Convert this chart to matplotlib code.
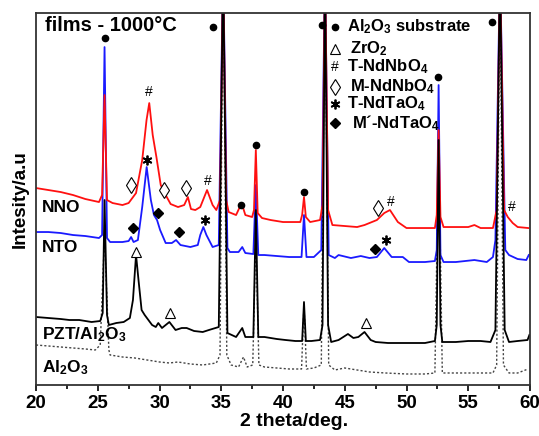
import matplotlib
matplotlib.use('Agg')
import matplotlib.pyplot as plt

# --- data (2 theta in deg, intensity in a.u.) ---
nno_x = [20.0, 21.0, 22.0, 23.0, 24.0, 25.1, 25.35, 25.55, 25.75, 26.2, 27.0, 27.5,
         28.1, 28.6, 28.95, 29.17, 29.45, 29.75, 30.1, 30.5, 30.9, 31.5, 32.0, 32.3,
         32.55, 32.9, 33.3, 33.85, 34.3, 34.6, 34.9, 35.15, 35.4, 35.6, 36.2, 36.65,
         36.95, 37.5, 37.65, 37.8, 37.95, 38.3, 39.0, 40.0, 41.0, 41.4, 41.55, 41.7,
         41.85, 42.2, 43.0, 43.2, 43.4, 43.65, 44.0, 45.0, 46.0, 46.6, 47.6, 48.2,
         48.66, 49.3, 50.0, 51.0, 52.3, 52.45, 52.6, 52.75, 53.0, 54.0, 55.0, 55.5,
         56.0, 57.0, 57.3, 57.57, 57.9, 58.2, 58.6, 59.0, 59.85]
nno_y = [197, 195, 193, 190, 186, 183, 190, 290, 185, 182, 180, 182,
         192, 225, 265, 282, 250, 228, 200, 190, 181, 178, 180, 188,
         176, 175, 178, 195, 180, 175, 185, 420, 185, 173, 170, 182,
         170, 168, 175, 235, 172, 167, 165, 163, 163, 163, 170, 188,
         168, 163, 165, 180, 420, 175, 160, 159, 158, 160, 165, 172,
         175, 163, 157, 157, 157, 170, 255, 168, 158, 158, 158, 160,
         157, 157, 175, 420, 175, 168, 162, 158, 157]

nto_x = [20.0, 21.0, 22.0, 23.0, 24.0, 25.1, 25.35, 25.55, 25.75, 26.0, 27.0, 27.5,
         27.7, 27.9, 28.25, 28.6, 28.96, 29.3, 29.55, 29.8, 30.05, 30.5, 31.0, 31.34,
         31.7, 32.5, 33.1, 33.3, 33.55, 33.8, 34.3, 34.8, 35.15, 35.5, 35.7, 36.4,
         36.7, 36.95, 37.6, 37.8, 38.0, 38.5, 39.5, 40.5, 41.5, 41.7, 41.9, 42.5,
         43.1, 43.4, 43.7, 44.2, 44.5, 45.5, 46.3, 47.0, 47.6, 48.2, 48.8, 49.7,
         50.2, 51.5, 52.3, 52.45, 52.6, 52.75, 53.0, 54.0, 55.5, 56.5, 57.0, 57.2,
         57.57, 58.0, 58.3, 59.0, 59.7, 59.9]
nto_y = [153, 153, 152, 150, 149, 147, 150, 338, 147, 143, 143, 144,
         148, 143, 145, 178, 218, 185, 170, 165, 155, 142, 142, 145,
         140, 138, 140, 150, 158, 150, 138, 140, 420, 137, 133, 133,
         138, 132, 131, 200, 130, 130, 129, 128, 128, 170, 128, 128,
         135, 420, 130, 127, 130, 127, 129, 127, 128, 137, 128, 128,
         123, 123, 124, 135, 300, 130, 123, 123, 125, 123, 128, 145,
         420, 135, 130, 126, 125, 130]

pzt_x = [20.0, 21.0, 22.0, 22.7, 23.5, 24.5, 25.2, 25.4, 25.55, 25.75, 25.9, 26.5,
         27.1, 27.6, 27.85, 28.1, 28.3, 28.55, 28.8, 29.4, 29.7, 29.9, 30.2, 30.8,
         31.3, 31.8, 32.2, 32.8, 33.5, 34.0, 34.8, 35.15, 35.5, 36.2, 36.7, 36.95,
         37.6, 37.8, 38.0, 38.5, 39.5, 40.2, 41.0, 41.55, 41.7, 41.85, 42.3, 43.0,
         43.2, 43.4, 43.65, 43.9, 44.5, 45.26, 45.7, 46.1, 46.6, 47.1, 47.5, 48.5,
         50.0, 51.5, 52.3, 52.45, 52.6, 52.75, 52.9, 54.0, 55.0, 56.0, 56.8, 57.2,
         57.57, 57.95, 58.3, 59.0, 59.8, 59.95]
pzt_y = [68, 67, 66, 65, 65, 63, 64, 72, 185, 70, 60, 62,
         63, 67, 85, 130, 105, 75, 70, 60, 58, 62, 57, 63,
         55, 57, 57, 54, 53, 55, 58, 420, 52, 48, 57, 48,
         48, 175, 48, 48, 46, 45, 44, 44, 83, 44, 44, 45,
         60, 420, 60, 43, 45, 51, 47, 48, 53, 45, 43, 42,
         42, 42, 44, 60, 245, 60, 43, 43, 44, 44, 43, 55,
         420, 55, 43, 44, 45, 50]

sub_x = [20.0, 21.0, 22.0, 23.0, 24.0, 24.8, 25.2, 25.55, 25.9, 26.0, 27.0, 28.0,
         29.0, 30.0, 30.8, 31.5, 32.5, 33.5, 34.6, 34.9, 35.15, 35.45, 35.8, 36.4,
         36.8, 37.1, 37.55, 37.8, 38.05, 38.5, 39.5, 40.5, 41.5, 41.7, 41.9, 42.5,
         43.1, 43.4, 43.7, 44.2, 45.0, 46.0, 47.0, 48.3, 50.0, 51.5, 52.3, 52.6,
         52.9, 54.0, 55.5, 57.0, 57.3, 57.57, 57.85, 58.3, 59.0, 59.85]
sub_y = [40, 39, 38, 37, 36, 35, 40, 150, 35, 30, 28, 27,
         25, 23, 22, 23, 21, 20, 22, 30, 420, 30, 20, 18,
         28, 18, 20, 150, 20, 18, 17, 16, 16, 80, 16, 17,
         20, 420, 20, 15, 17, 15, 13, 12, 11, 11, 12, 245,
         12, 12, 12, 12, 20, 420, 20, 12, 12, 16]

# phase markers (2 theta, height)
dot_pos = [(25.55, 347), (34.3, 358), (43.15, 360), (37.8, 240), (41.7, 193),
           (36.6, 180), (52.55, 308), (56.9, 363)]
hash_pos = [(29.15, 293), (33.9, 204), (48.75, 183), (58.5, 178)]
open_dia_pos = [(27.7, 200), (30.35, 195), (32.15, 197), (47.7, 177)]
star_pos = [(28.95, 225), (33.7, 165), (48.35, 145)]
fill_dia_pos = [(27.85, 157), (29.9, 172), (31.6, 153), (47.45, 136)]
tri_pos = [(28.1, 133), (30.85, 72), (46.7, 62)]

plt.rcParams['font.family'] = ['Liberation Sans', 'DejaVu Sans']
plt.rcParams['font.weight'] = 'bold'
plt.rcParams['mathtext.fontset'] = 'custom'
plt.rcParams['mathtext.rm'] = 'Liberation Sans:bold'
plt.rcParams['mathtext.default'] = 'rm'

fig = plt.figure(figsize=(5.39, 4.36), dpi=100)
ax = fig.add_axes([0.0668, 0.117, 0.9165, 0.853])

ax.plot(sub_x, sub_y, ls=(0, (1.5, 1.5)), color='#444444', lw=1.0)
ax.plot(nto_x, nto_y, color='#1a1aff', lw=1.3)
ax.plot(nno_x, nno_y, color='#ff1010', lw=1.3)
ax.plot(pzt_x, pzt_y, color='black', lw=1.3)

ax.set_xlim(20, 60)
ax.set_ylim(0, 372)
ax.set_xticks(range(20, 61, 5))
ax.set_xticks([22.5 + 5 * i for i in range(8)], minor=True)
ax.set_yticks([])
ax.tick_params(axis='x', which='major', length=4, width=1.2, labelsize=13.5, pad=3)
ax.tick_params(axis='x', which='minor', length=3, width=1.2)
for s in ax.spines.values():
    s.set_linewidth(1.3)
    s.set_color('#333333')

ax.set_xlabel('2 theta/deg.', fontsize=14, fontweight='bold')
ax.xaxis.set_label_coords(0.522, -0.075)
ax.set_ylabel('Intesity/a.u', fontsize=13.5, fontweight='bold', labelpad=5)

# phase markers
ax.plot(*zip(*dot_pos), 'o', color='black', ms=4.5, clip_on=False)
ax.plot(*zip(*open_dia_pos), 'd', mfc='white', mec='black', ms=8, mew=0.8)
ax.plot(*zip(*star_pos), marker=(6, 2, 0), ls='none', color='black', ms=7, mew=1.3)
ax.plot(*zip(*fill_dia_pos), 'D', color='black', ms=5)
ax.plot(*zip(*tri_pos), '^', mfc='white', mec='black', ms=7.5, mew=0.8)
for x, y in hash_pos:
    ax.text(x, y, '#', ha='center', va='center', fontsize=10, fontweight='normal')

# legend block
lx, tx = 44.2, 45.2
rows = [358, 336, 318, 298, 281, 262]
ax.plot([lx], [rows[0]], 'o', color='black', ms=4.5)
ax.plot([lx], [rows[1]], '^', mfc='white', mec='black', ms=7.5, mew=0.8)
ax.text(lx, rows[2], '#', ha='center', va='center', fontsize=10, fontweight='normal')
ax.plot([lx], [rows[3]], 'd', mfc='white', mec='black', ms=8, mew=0.8)
ax.plot([lx], [rows[4]], marker=(6, 2, 0), ls='none', color='black', ms=7, mew=1.3)
ax.plot([lx], [rows[5]], 'D', color='black', ms=5)
ax.text(tx, rows[0], 'Al$_2$O$_3$ substrate', va='center', fontsize=12)
ax.text(tx + 0.2, rows[1], 'ZrO$_2$', va='center', fontsize=12)
ax.text(tx, rows[2], 'T-NdNbO$_4$', va='center', fontsize=12)
ax.text(tx + 0.2, rows[3], 'M-NdNbO$_4$', va='center', fontsize=12)
ax.text(tx, rows[4], 'T-NdTaO$_4$', va='center', fontsize=12)
ax.text(tx + 0.4, rows[5], 'M\u00b4-NdTaO$_4$', va='center', fontsize=12)

ax.text(20.7, 360, 'films - 1000\u00b0C', va='center', fontsize=14.5)

# trace labels
ax.text(20.5, 178, 'NNO', va='center', fontsize=12.5)
ax.text(20.5, 138, 'NTO', va='center', fontsize=12.5)
ax.text(20.5, 50, 'PZT/Al$_2$O$_3$', va='center', fontsize=12.5)
ax.text(20.5, 17, 'Al$_2$O$_3$', va='center', fontsize=12.5)

fig.savefig('out.png', dpi=100)
